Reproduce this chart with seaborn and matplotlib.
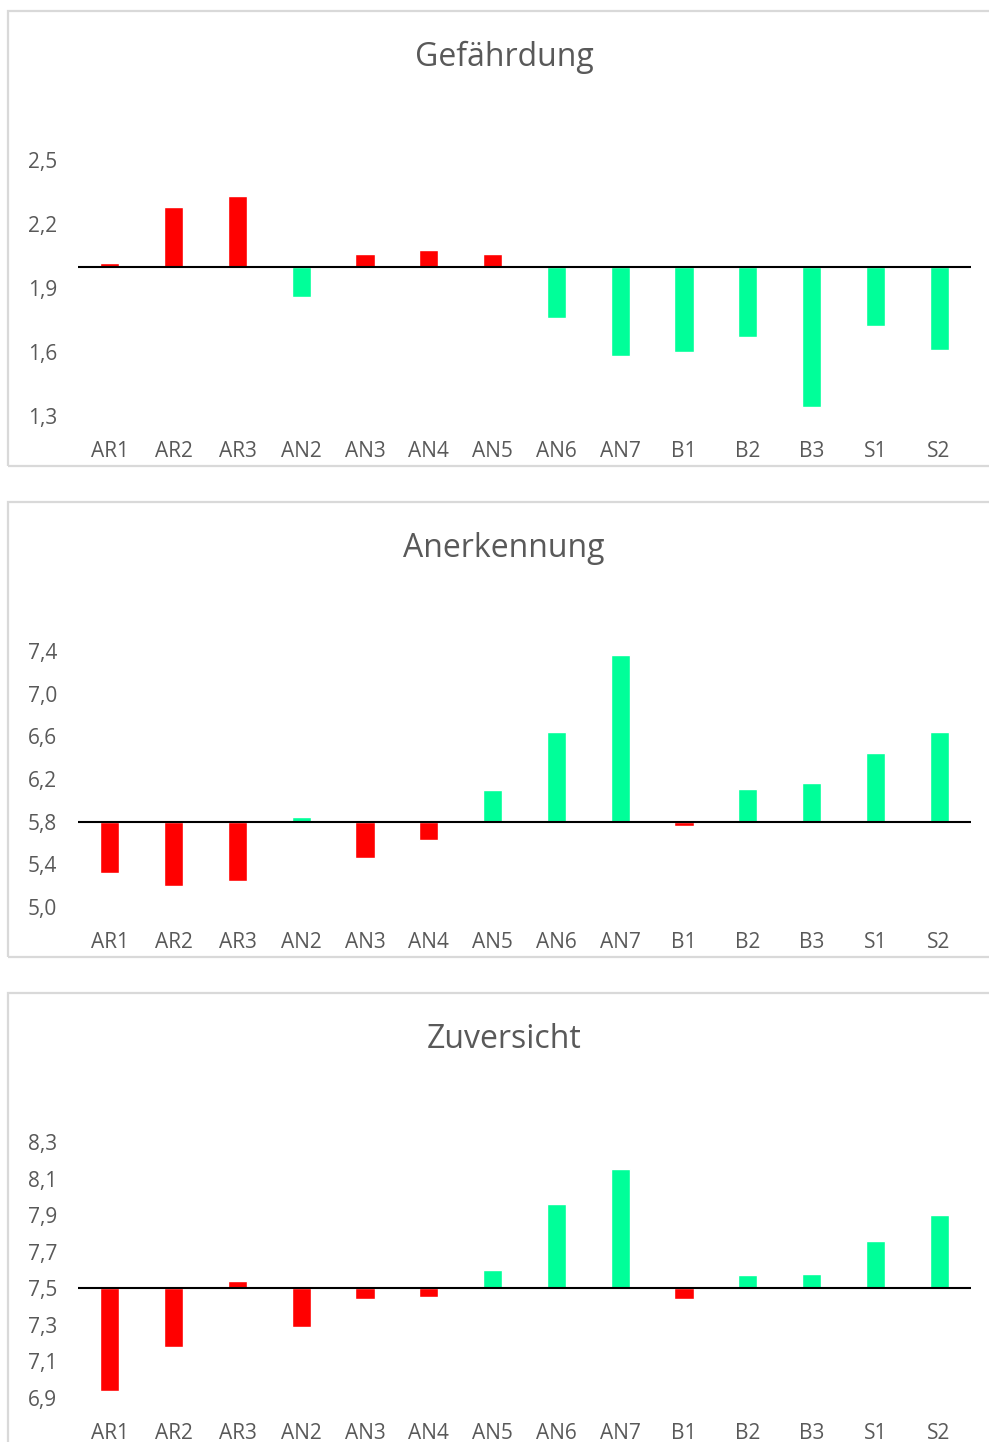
import matplotlib
matplotlib.use("Agg")
import matplotlib.pyplot as plt
import numpy as np
import pandas as pd
import seaborn as sns
from matplotlib.patches import Rectangle
from matplotlib.ticker import FuncFormatter

sns.set_style("white")
plt.rcParams["font.family"] = ["Open Sans", "DejaVu Sans"]

RED = "#FF0000"
GREEN = "#00FF99"
GREY = "#595959"

categories = ["AR1", "AR2", "AR3", "AN2", "AN3", "AN4", "AN5",
              "AN6", "AN7", "B1", "B2", "B3", "S1", "S2"]

titles = ["Gefährdung", "Anerkennung", "Zuversicht"]

# Gefährdung
gef_values = [2.015, 2.28, 2.33, 1.86, 2.06, 2.08, 2.06,
              1.76, 1.58, 1.60, 1.67, 1.34, 1.72, 1.61]
gef_colors = [RED, RED, RED, GREEN, RED, RED, RED,
              GREEN, GREEN, GREEN, GREEN, GREEN, GREEN, GREEN]
gef_base = 2.0
gef_ticks = [1.3, 1.6, 1.9, 2.2, 2.5]

# Anerkennung
ane_values = [5.32, 5.20, 5.24, 5.84, 5.46, 5.63, 6.10,
              6.64, 7.36, 5.76, 6.11, 6.16, 6.44, 6.64]
ane_colors = [RED, RED, RED, GREEN, RED, RED, GREEN,
              GREEN, GREEN, RED, GREEN, GREEN, GREEN, GREEN]
ane_base = 5.8
ane_ticks = [5.0, 5.4, 5.8, 6.2, 6.6, 7.0, 7.4]

# Zuversicht
zuv_values = [6.94, 7.18, 7.54, 7.29, 7.44, 7.45, 7.60,
              7.96, 8.15, 7.44, 7.57, 7.58, 7.76, 7.90]
zuv_colors = [RED, RED, RED, RED, RED, RED, GREEN,
              GREEN, GREEN, RED, GREEN, GREEN, GREEN, GREEN]
zuv_base = 7.5
zuv_ticks = [6.9, 7.1, 7.3, 7.5, 7.7, 7.9, 8.1, 8.3]

panels = [
    (titles[0], gef_values, gef_colors, gef_base, gef_ticks),
    (titles[1], ane_values, ane_colors, ane_base, ane_ticks),
    (titles[2], zuv_values, zuv_colors, zuv_base, zuv_ticks),
]

W, H = 989, 1442
fig = plt.figure(figsize=(W / 100, H / 100), dpi=100)

for i, (title, values, colors, base, ticks) in enumerate(panels):
    off = 491 * i

    # panel frame (runs off the right edge like the original screenshot)
    fig.patches.append(Rectangle((8 / W, 1 - (off + 466) / H), 990 / W, 455 / H,
                                 transform=fig.transFigure, fill=False,
                                 edgecolor="#D9D9D9", linewidth=1.6))
    fig.text(504 / W, 1 - (off + 57) / H, title, ha="center", va="center",
             fontsize=23, color=GREY)

    ax = fig.add_axes([78 / W, 1 - (off + 416) / H, 893 / W, 256 / H])
    df = pd.DataFrame({"cat": categories,
                       "delta": np.array(values) - base})
    sns.barplot(data=df, x="cat", y="delta", hue="cat", palette=colors,
                legend=False, width=0.3, saturation=1, ax=ax)
    ax.axhline(0, color="black", linewidth=1.5, zorder=5)
    ax.set_xlim(-0.5, len(categories) - 0.5)
    ax.set_ylim(ticks[0] - base, ticks[-1] - base)
    ax.set_yticks([t - base for t in ticks])
    ax.yaxis.set_major_formatter(
        FuncFormatter(lambda v, p, b=base: f"{v + b:.1f}".replace(".", ",")))
    ax.set_xlabel("")
    ax.set_ylabel("")
    for s in ax.spines.values():
        s.set_visible(False)
    ax.tick_params(axis="x", length=0, pad=18, labelsize=15, labelcolor=GREY)
    ax.tick_params(axis="y", length=0, pad=15, labelsize=15, labelcolor=GREY)

fig.savefig("out.png", dpi=100)
